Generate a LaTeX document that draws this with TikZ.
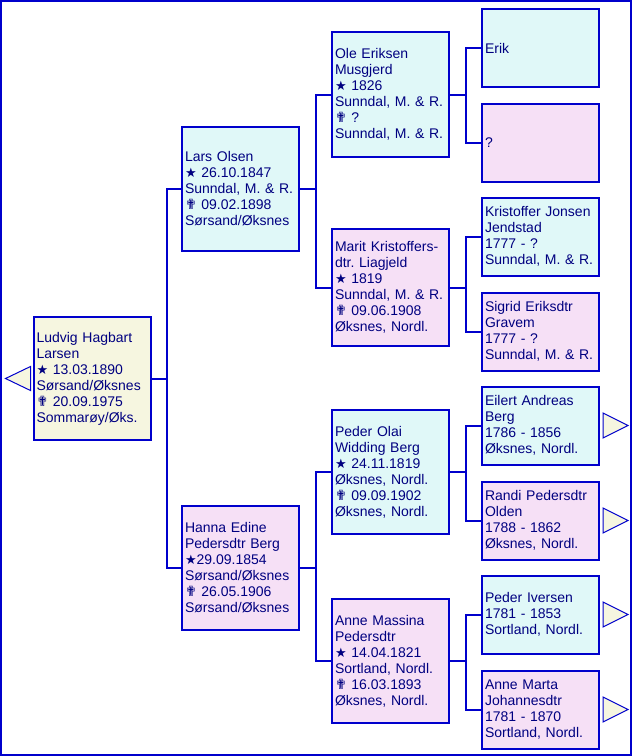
\documentclass[tikz,border=0pt]{standalone}
\usepackage{fontspec}
\setmainfont{Liberation Sans}
\newfontfamily\symfont{DejaVu Sans}
\definecolor{lineblue}{RGB}{0,0,204}
\definecolor{inkblue}{RGB}{0,0,128}
\definecolor{malefill}{RGB}{224,248,248}
\definecolor{femalefill}{RGB}{246,224,246}
\definecolor{rootfill}{RGB}{246,246,224}
\newcommand{\born}{{\symfont\fontsize{13}{16}\selectfont ★}}
\newcommand{\died}{{\symfont\fontsize{14}{16}\selectfont ✟}}
\tikzset{
  person/.style  = {draw=lineblue, line width=2pt, text=inkblue, align=left,
                    text width=111pt, minimum width=117pt, inner xsep=3pt,
                    inner ysep=2pt, font=\fontsize{14}{16}\selectfont\frenchspacing},
  pmale/.style   = {person, fill=malefill},
  pfemale/.style = {person, fill=femalefill},
  proot/.style   = {person, fill=rootfill},
  % Ancestors of the last generation: short boxes.
  lmale/.style   = {pmale, minimum height=78pt},
  lfemale/.style = {pfemale, minimum height=78pt},
  link/.style    = {draw=lineblue, line width=2pt},
  more/.style    = {draw=lineblue, line width=1pt, fill=rootfill},   % "more ancestors" arrows
}

\begin{document}
\begin{tikzpicture}[x=1pt, y=-1pt]

    \useasboundingbox (0,0) rectangle (632,756);
    \draw[link] (1,1) rectangle (631,755);

    \node[proot, minimum height=123pt] (ludvig) at (92,378.5)
      {Ludvig Hagbart\\Larsen\\\born\ 13.03.1890\\Sørsand/Øksnes\\\died\ 20.09.1975\\Sommarøy/Øks.};

    \node[pmale,   minimum height=124pt] (lars)  at (240.5,189)
      {Lars Olsen\\\born\ 26.10.1847\\Sunndal, M. \& R.\\\died\ 09.02.1898\\Sørsand/Øksnes};
    \node[pfemale, minimum height=124pt] (hanna) at (240.5,568)
      {Hanna Edine\\Pedersdtr Berg\\\born29.09.1854\\Sørsand/Øksnes\\\died\ 26.05.1906\\Sørsand/Øksnes};

    \node[pmale,   minimum height=125pt] (ole)    at (390.5,94.5)
      {Ole Eriksen\\Musgjerd\\\born\ 1826\\Sunndal, M. \& R.\\\died\ ?\\Sunndal, M. \& R.};
    \node[pfemale, minimum height=117pt] (marit)  at (390.5,287.5)
      {Marit Kristoffers-\\dtr. Liagjeld\\\born\ 1819\\Sunndal, M. \& R.\\\died\ 09.06.1908\\Øksnes, Nordl.};
    \node[pmale,   minimum height=124pt] (pederolai) at (390.5,472)
      {Peder Olai\\Widding Berg\\\born\ 24.11.1819\\Øksnes, Nordl.\\\died\ 09.09.1902\\Øksnes, Nordl.};
    \node[pfemale, minimum height=124pt] (annemassina) at (390.5,661)
      {Anne Massina\\Pedersdtr\\\born\ 14.04.1821\\Sortland, Nordl.\\\died\ 16.03.1893\\Øksnes, Nordl.};

    \node[lmale]   (erik)       at (540.5,48)    {Erik};
    \node[lfemale] (unknown)    at (540.5,143)   {?};
    \node[lmale]   (kristoffer) at (540.5,236.5) {Kristoffer Jonsen\\Jendstad\\1777 - ?\\Sunndal, M. \& R.};
    \node[lfemale] (sigrid)     at (540.5,331.5) {Sigrid Eriksdtr\\Gravem\\1777 - ?\\Sunndal, M. \& R.};
    \node[lmale]   (eilert)     at (540.5,425.5) {Eilert Andreas\\Berg\\1786 - 1856\\Øksnes, Nordl.};
    \node[lfemale] (randi)      at (540.5,520.5) {Randi Pedersdtr\\Olden\\1788 - 1862\\Øksnes, Nordl.};
    \node[lmale]   (pederiversen) at (540.5,614.5) {Peder Iversen\\1781 - 1853\\Sortland, Nordl.};
    \node[lfemale] (annemarta)  at (540.5,709.5) {Anne Marta\\Johannesdtr\\1781 - 1870\\Sortland, Nordl.};

    \draw[link] (ludvig.east) -- ++(15,0) |- (lars.west);
    \draw[link] (ludvig.east) -- ++(15,0) |- (hanna.west);
    \draw[link] (lars.east) -- ++(16,0) |- (ole.west);
    \draw[link] (lars.east) -- ++(16,0) |- (marit.west);
    \draw[link] (hanna.east) -- ++(16,0) |- (pederolai.west);
    \draw[link] (hanna.east) -- ++(16,0) |- (annemassina.west);
    \draw[link] (ole.east) -- ++(16,0) |- (erik.west);
    \draw[link] (ole.east) -- ++(16,0) |- (unknown.west);
    \draw[link] (marit.east) -- ++(16,0) |- (kristoffer.west);
    \draw[link] (marit.east) -- ++(16,0) |- (sigrid.west);
    \draw[link] (pederolai.east) -- ++(16,0) |- (eilert.west);
    \draw[link] (pederolai.east) -- ++(16,0) |- (randi.west);
    \draw[link] (annemassina.east) -- ++(16,0) |- (pederiversen.west);
    \draw[link] (annemassina.east) -- ++(16,0) |- (annemarta.west);

    \draw[more] (ludvig.west) ++(-2,-12) -- ++(-25,12) -- ++(25,12) -- cycle;
    \foreach \who in {eilert, randi, pederiversen, annemarta}
      \draw[more] (\who.east) ++(3,-12.5) -- ++(25,12.5) -- ++(-25,12.5) -- cycle;
  \end{tikzpicture}
\end{document}
